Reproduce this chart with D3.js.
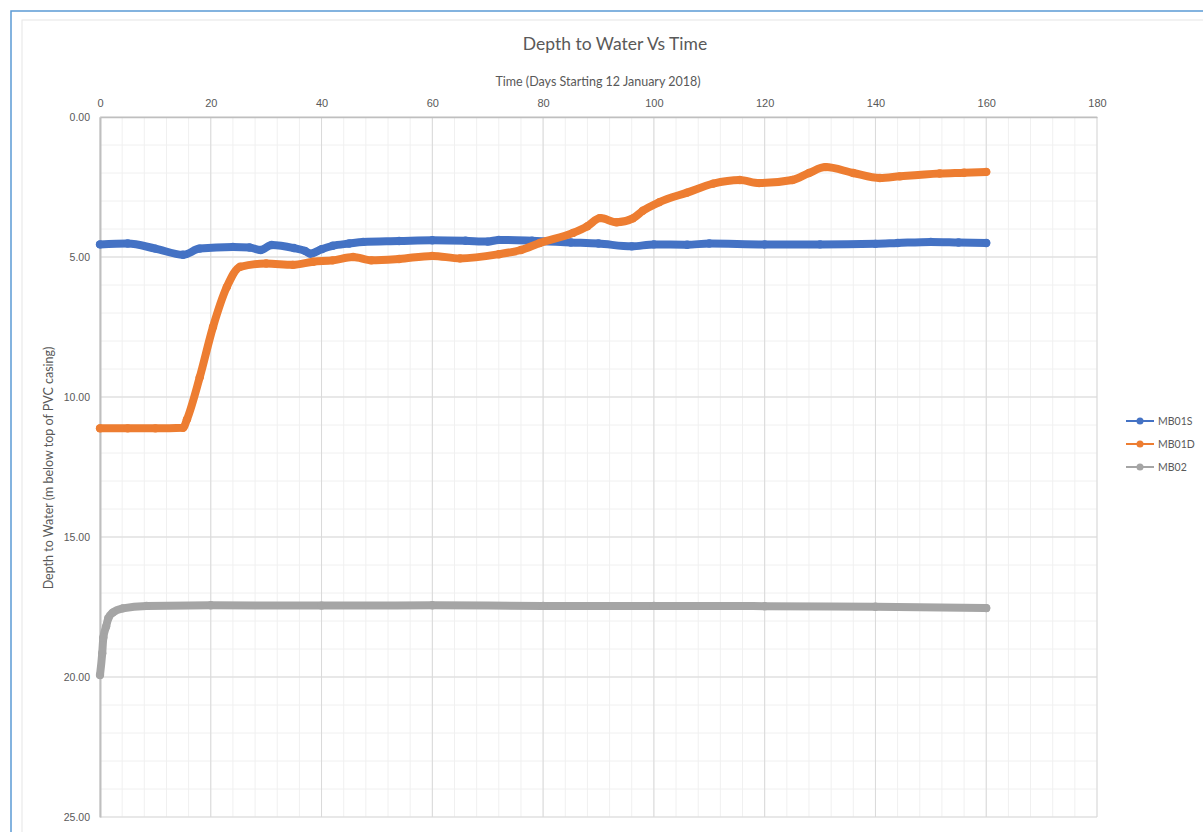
<!DOCTYPE html>
<html><head><meta charset="utf-8">
<script src="https://cdn.jsdelivr.net/npm/d3@7"></script>
<style>body{margin:0;background:#fff;}svg{display:block;font-family:Lato,"Open Sans",sans-serif;}</style>
</head><body><svg id="c" width="1203" height="832"></svg>
<script>
const seriesNames = ["MB01S","MB01D","MB02"];
const seriesColors = ["#4472C4","#ED7D31","#A5A5A5"];
const xTicks = [0,20,40,60,80,100,120,140,160,180];
const yTicks = [0,5,10,15,20,25];
// [day, depth]
const mb01s = [[0,4.55],[5,4.52],[10,4.7],[15,4.92],[18,4.7],[24,4.64],[27,4.66],[29,4.75],[31,4.57],[35,4.68],[37,4.78],[38,4.88],[40,4.72],[42,4.6],[45,4.52],[47.5,4.46],[54,4.43],[60,4.4],[66,4.42],[70,4.45],[72,4.39],[78,4.42],[85,4.48],[90,4.52],[96,4.62],[100,4.55],[106,4.56],[110,4.52],[120,4.55],[130,4.55],[140,4.53],[144,4.5],[150,4.46],[155,4.48],[160,4.5]];
const mb01d = [[0,11.12],[5,11.12],[10,11.12],[15,11.1],[15.7,10.8],[18,9.3],[20.4,7.5],[22.9,6.07],[25.3,5.35],[30,5.23],[34.8,5.28],[38.5,5.17],[42,5.12],[45.7,5.0],[49,5.12],[54,5.07],[60,4.96],[65,5.05],[72,4.9],[76,4.75],[79.4,4.5],[85.4,4.14],[88,3.9],[90.3,3.61],[93.3,3.76],[96.2,3.62],[98,3.35],[101,3.04],[106,2.7],[110.7,2.38],[115.5,2.25],[119,2.36],[125,2.25],[128,2.0],[131,1.79],[136,2.0],[140.8,2.18],[144.4,2.12],[151.6,2.02],[156,1.99],[160,1.96]];
const mb02 = [[0,19.93],[0.4,19.15],[0.6,18.6],[1.1,18.2],[1.5,17.9],[2.3,17.7],[4.1,17.55],[8.4,17.46],[20,17.44],[40,17.45],[60,17.44],[80,17.46],[100,17.46],[120,17.47],[140,17.49],[160,17.54]];
const allSeries = [mb01s, mb01d, mb02];

const svg = d3.select("#c");
// frames
svg.append("rect").attr("x",11).attr("y",11).attr("width",1250).attr("height",900).attr("fill","none").attr("stroke","#5B9BD5").attr("stroke-width",1.5);
svg.append("rect").attr("x",22).attr("y",20).attr("width",1250).attr("height",900).attr("fill","none").attr("stroke","#e6e6e6").attr("stroke-width",1);

const L=100,R=1097,T=117,B=817;
const x = d3.scaleLinear().domain([0,180]).range([L,R]);
const y = d3.scaleLinear().domain([0,25]).range([T,B]);

const g = svg.append("g");
// minor grid
g.append("g").selectAll("line").data(d3.range(0,181,4)).join("line")
  .attr("x1",d=>x(d)).attr("x2",d=>x(d)).attr("y1",T).attr("y2",B).attr("stroke","#f0f0f0");
g.append("g").selectAll("line").data(d3.range(0,26,1)).join("line")
  .attr("y1",d=>y(d)).attr("y2",d=>y(d)).attr("x1",L).attr("x2",R).attr("stroke","#f0f0f0");
// major grid
g.append("g").selectAll("line").data(xTicks).join("line")
  .attr("x1",d=>x(d)).attr("x2",d=>x(d)).attr("y1",T).attr("y2",B).attr("stroke","#d9d9d9");
g.append("g").selectAll("line").data(yTicks).join("line")
  .attr("y1",d=>y(d)).attr("y2",d=>y(d)).attr("x1",L).attr("x2",R).attr("stroke","#d9d9d9");
// axes
const xAxis = d3.axisTop(x).tickValues(xTicks).tickSize(0).tickPadding(10).tickFormat(d3.format("d"));
const gx = svg.append("g").attr("transform",`translate(0,${T})`).call(xAxis);
gx.select(".domain").attr("stroke","#bfbfbf").attr("stroke-width",1.5);
gx.selectAll("text").attr("fill","#595959").style("font-size","11px");
const yAxis = d3.axisLeft(y).tickValues(yTicks).tickSize(0).tickPadding(10).tickFormat(d3.format(".2f"));
const gy = svg.append("g").attr("transform",`translate(${L},0)`).call(yAxis);
gy.select(".domain").attr("stroke","#bfbfbf").attr("stroke-width",2);
gy.selectAll("text").attr("fill","#595959").style("font-size","10.5px");

// series
const line = d3.line().x(d=>x(d[0])).y(d=>y(d[1])).curve(d3.curveMonotoneX);
allSeries.forEach((s,i)=>{
  svg.append("path").datum(s).attr("d",line).attr("fill","none")
    .attr("stroke",seriesColors[i]).attr("stroke-width",8).attr("stroke-linecap","round").attr("stroke-linejoin","round");
  svg.append("g").selectAll("circle").data(s).join("circle")
    .attr("cx",d=>x(d[0])).attr("cy",d=>y(d[1])).attr("r",4.2).attr("fill",seriesColors[i]);
});

// titles
svg.append("text").attr("x",615).attr("y",50).attr("text-anchor","middle").attr("fill","#595959").style("font-size","17.5px").text("Depth to Water Vs Time");
svg.append("text").attr("x",598).attr("y",86).attr("text-anchor","middle").attr("fill","#595959").style("font-size","12.5px").text("Time (Days Starting 12 January 2018)");
svg.append("text").attr("transform","translate(53,468) rotate(-90)").attr("text-anchor","middle").attr("fill","#595959").style("font-size","12.5px").text("Depth to Water (m below top of PVC casing)");

// legend
const lg = svg.append("g").attr("transform","translate(1126,421)");
seriesNames.forEach((n,i)=>{
  const r = lg.append("g").attr("transform",`translate(0,${i*23})`);
  r.append("line").attr("x1",0).attr("x2",28).attr("stroke",seriesColors[i]).attr("stroke-width",2);
  r.append("circle").attr("cx",14).attr("r",3.5).attr("fill",seriesColors[i]);
  r.append("text").attr("x",32).attr("y",4).attr("fill","#595959").style("font-size","10.5px").text(n);
});
</script></body></html>
